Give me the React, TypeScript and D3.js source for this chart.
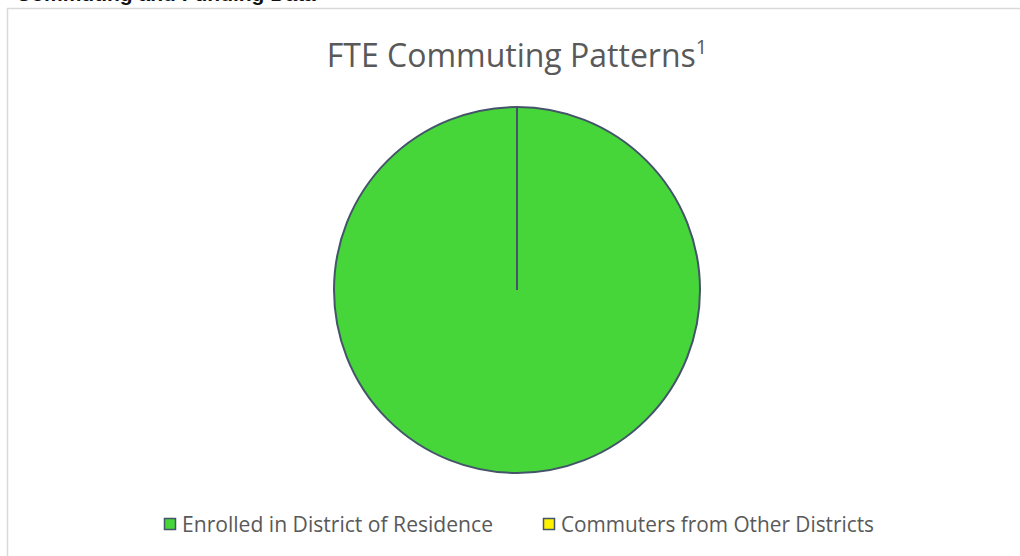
import React from "react";
import * as d3 from "d3";

const categories = ["Enrolled in District of Residence", "Commuters from Other Districts"];
const values = [100, 0];
const colors = ["#47D639", "#FFF200"];
const titleText = "FTE Commuting Patterns";
const titleSup = "1";
const headerText = "Commuting and Funding Data";

export default function App() {
  const W = 1020, H = 556;
  const cx = 517, cy = 290, r = 183;
  const pie = d3.pie<number>().sort(null).value((d) => d);
  const arcs = pie(values);
  const arcGen = d3.arc<d3.PieArcDatum<number>>().innerRadius(0).outerRadius(r);
  const font = "'Open Sans', 'Noto Sans', sans-serif";
  const legendX = [164, 543];
  return (
    <svg width={W} height={H} style={{ position: "fixed", left: 0, top: 0, background: "#fff" }}>
      <text x={16} y={1} fontFamily="'Liberation Sans', Arial, sans-serif" fontWeight="bold" fontSize={21} fill="#111">{headerText}</text>
      <rect x={0} y={8} width={W} height={H} fill="#fff" />
      <path d={`M7.5,${H} L7.5,8.5 L${W},8.5`} fill="none" stroke="#d9d9d9" strokeWidth={1.5} />
      <text x={cx} y={67} textAnchor="middle" fontFamily={font} fontSize={32} fill="#595959">
        {titleText}
        <tspan fontSize={20} dy={-13}>{titleSup}</tspan>
      </text>
      <g transform={`translate(${cx},${cy})`}>
        {arcs.map((a, i) => (
          a.endAngle - a.startAngle > 0 ? (
            <path key={i} d={arcGen(a) || ""} fill={colors[i]} stroke="#44546A" strokeWidth={2} />
          ) : null
        ))}
        {arcs.map((a, i) => (
          <line key={"l" + i}
            x1={0} y1={0}
            x2={r * Math.sin(a.startAngle)} y2={-r * Math.cos(a.startAngle)}
            stroke="#44546A" strokeWidth={2} />
        ))}
      </g>
      {categories.map((c, i) => (
        <g key={c} transform={`translate(${legendX[i]},0)`}>
          <rect x={0.5} y={518.5} width={11} height={11} fill={colors[i]} stroke="#44546A" strokeWidth={1.5} />
          <text x={18} y={532} fontFamily={font} fontSize={21} textLength={i === 0 ? 311 : 313} lengthAdjust="spacingAndGlyphs" fill="#595959">{c}</text>
        </g>
      ))}
    </svg>
  );
}
